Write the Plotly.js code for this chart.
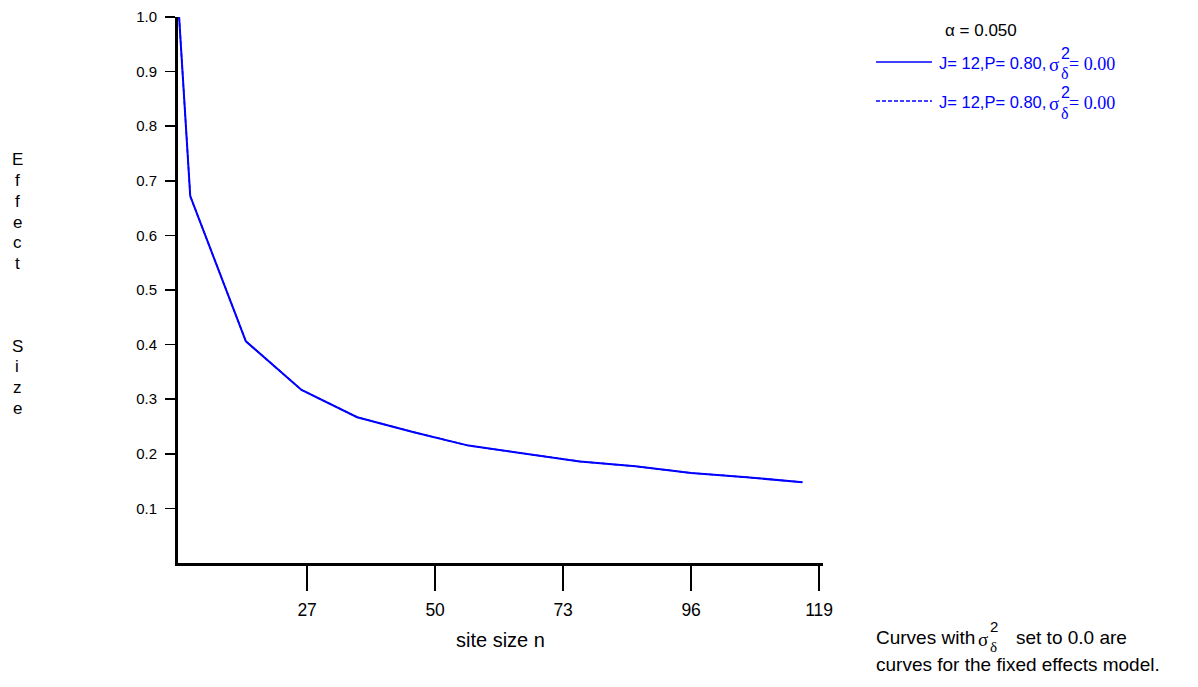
<!DOCTYPE html>
<html>
<head>
<meta charset="utf-8">
<script src="https://cdn.plot.ly/plotly-3.0.1.min.js"></script>
<style>html,body{margin:0;padding:0;background:#fff;}#chart{width:1198px;height:687px;}</style>
</head>
<body>
<div id="chart"></div>
<script>
// ---- data ----
const siteSize = [4, 6, 16, 26, 36, 46, 56, 66, 76, 86, 96, 106, 116];
const effectSolid = [1.0, 0.672, 0.406, 0.317, 0.267, 0.240, 0.215, 0.201, 0.186, 0.177, 0.165, 0.157, 0.148];
const effectDashed = [1.0, 0.672, 0.406, 0.317, 0.267, 0.240, 0.215, 0.201, 0.186, 0.177, 0.165, 0.157, 0.148];
const xTickVals = [27, 50, 73, 96, 119];
const xTickText = ["27", "50", "73", "96", "119"];
const yTickVals = [0.1, 0.2, 0.3, 0.4, 0.5, 0.6, 0.7, 0.8, 0.9, 1.0];
const yTickText = ["0.1", "0.2", "0.3", "0.4", "0.5", "0.6", "0.7", "0.8", "0.9", "1.0"];
const legendLabel = "J= 12,P= 0.80,";
const legendValue = "= 0.00";
const alphaLabel = "\u03b1 = 0.050";
const yTitleLetters = ["E","f","f","e","c","t","","","","S","i","z","e"];

// ---- layout geometry ----
const FW = 1198, FH = 687;
const L = 178, R = 375, T = 17, B = 124;
const W = FW - L - R, PH = FH - T - B;
const fx = p => (p - L) / W;
const fy = p => (FH - B - p) / PH;

const SANS = "'Liberation Sans', Arial, sans-serif";
const SERIF = "'Liberation Serif', 'Times New Roman', serif";
const BLUE = "#0000ff";

function ann(text, x, y, font, opts) {
  return Object.assign({
    text: text, xref: "paper", yref: "paper", x: fx(x), y: fy(y),
    showarrow: false, xanchor: "left", yanchor: "middle",
    borderpad: 0, font: font
  }, opts || {});
}

const annotations = [];
// y title stacked letters
yTitleLetters.forEach((ch, i) => {
  if (ch) annotations.push(ann(ch, 17, 160 + i * 20.7, {family: SANS, size: 17, color: "#000"}, {xanchor: "center"}));
});
// x title
annotations.push(ann("site size n", 500, 640, {family: SANS, size: 20, color: "#000"}, {xanchor: "center"}));
// alpha
annotations.push(ann(alphaLabel, 944, 30, {family: SANS, size: 17, color: "#000"}));
// legend texts
[63, 102].forEach(yy => {
  annotations.push(ann(legendLabel, 938, yy, {family: SANS, size: 16.5, color: BLUE}));
  annotations.push(ann("\u03c3", 1048, yy + 1, {family: SERIF, size: 19, color: BLUE}));
  annotations.push(ann("2", 1060, yy - 9, {family: SANS, size: 16, color: BLUE}));
  annotations.push(ann("\u03b4", 1060, yy + 11, {family: SERIF, size: 16, color: BLUE}));
  annotations.push(ann(legendValue, 1068, yy + 1, {family: SERIF, size: 18, color: BLUE}));
});
// bottom note
annotations.push(ann("Curves with", 875, 637, {family: SANS, size: 19, color: "#000"}));
annotations.push(ann("\u03c3", 977, 639, {family: SERIF, size: 19, color: "#000"}));
annotations.push(ann("2", 989, 626, {family: SANS, size: 15, color: "#000"}));
annotations.push(ann("\u03b4", 989, 647, {family: SERIF, size: 15, color: "#000"}));
annotations.push(ann("set to 0.0 are", 1015, 637, {family: SANS, size: 19, color: "#000"}));
annotations.push(ann("curves for the fixed effects model.", 875, 664, {family: SANS, size: 19, color: "#000"}));

const shapes = [
  {type: "line", xref: "paper", yref: "paper", x0: fx(876), x1: fx(932), y0: fy(62), y1: fy(62), line: {color: BLUE, width: 1.5}},
  {type: "line", xref: "paper", yref: "paper", x0: fx(876), x1: fx(932), y0: fy(101), y1: fy(101), line: {color: BLUE, width: 1.5, dash: "4px,2px"}}
];

const traces = [
  {x: siteSize, y: effectSolid, type: "scatter", mode: "lines", line: {color: BLUE, width: 2}, showlegend: false, hoverinfo: "skip"},
  {x: siteSize, y: effectDashed, type: "scatter", mode: "lines", line: {color: BLUE, width: 1.5, dash: "4px,2px"}, showlegend: false, hoverinfo: "skip"}
];

const layout = {
  width: FW, height: FH,
  margin: {l: L, r: R, t: T, b: B, pad: 0},
  paper_bgcolor: "#fff", plot_bgcolor: "#fff",
  showlegend: false,
  xaxis: {
    range: [3.8, 119.7], showgrid: false, zeroline: false,
    showline: true, linecolor: "#000", linewidth: 3,
    ticks: "outside", ticklen: 25, tickwidth: 1.5, tickcolor: "#000",
    tickvals: xTickVals, ticktext: xTickText, ticklabelstandoff: 4,
    tickfont: {family: SANS, size: 17.5, color: "#000"}
  },
  yaxis: {
    range: [0, 1.0], showgrid: false, zeroline: false,
    showline: true, linecolor: "#000", linewidth: 3,
    ticks: "outside", ticklen: 10, tickwidth: 1.5, tickcolor: "#000",
    tickvals: yTickVals, ticktext: yTickText, ticklabelstandoff: 5,
    tickfont: {family: SANS, size: 15, color: "#000"}
  },
  annotations: annotations,
  shapes: shapes
};

Plotly.newPlot("chart", traces, layout, {staticPlot: true, displayModeBar: false});
</script>
</body>
</html>
